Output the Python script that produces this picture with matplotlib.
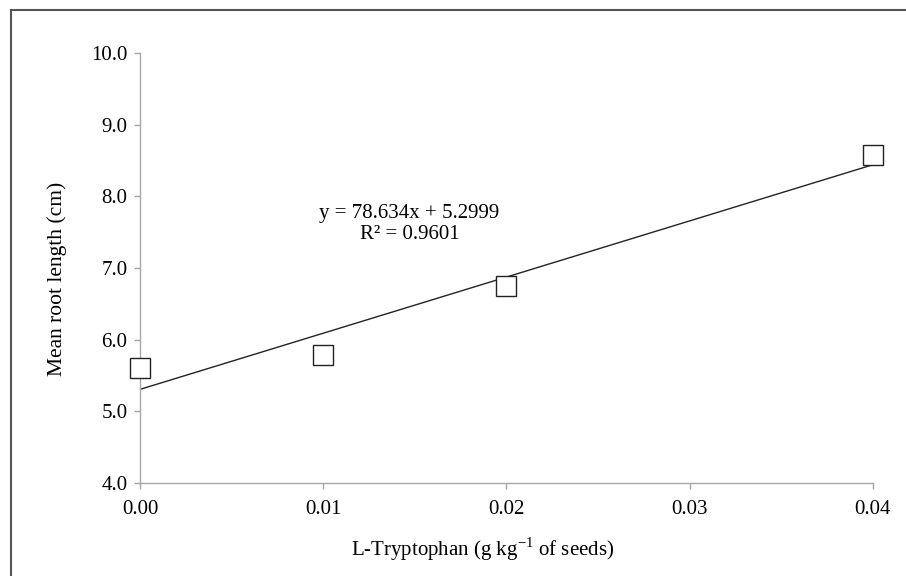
import numpy as np
import matplotlib.pyplot as plt
from matplotlib.patches import Rectangle

# Dados
triptofano = [0.00, 0.01, 0.02, 0.04]
comprimento = [5.60, 5.78, 6.75, 8.58]
x_ticks = [0.00, 0.01, 0.02, 0.03, 0.04]
y_ticks = [4.0, 5.0, 6.0, 7.0, 8.0, 9.0, 10.0]

plt.rcParams['font.family'] = ['Liberation Serif', 'DejaVu Serif']
plt.rcParams['mathtext.fontset'] = 'custom'
plt.rcParams['mathtext.rm'] = 'Liberation Serif'

fig = plt.figure(figsize=(9.06, 5.76), dpi=100)
ax = fig.add_axes([0.1545, 0.1615, 0.809, 0.7465])

# moldura externa
fig.patches.append(Rectangle((0.0125, -0.05), 1.2, 1.05 - 10 / 576, transform=fig.transFigure,
                             fill=False, edgecolor='#555555', linewidth=1.5))

# linha de tendência (regressão linear)
coef = np.polyfit(triptofano, comprimento, 1)
xs = np.array([min(triptofano), max(triptofano)])
ax.plot(xs, np.polyval(coef, xs), color='#222222', linewidth=1.0, zorder=2)

ax.plot(triptofano, comprimento, linestyle='none', marker='s', markersize=15,
        markerfacecolor='white', markeredgecolor='#222222', markeredgewidth=1.0,
        zorder=3, clip_on=False)

ax.text(0.0147, 7.76, 'y = 78.634x + 5.2999', ha='center', va='center', fontsize=15)
ax.text(0.0147, 7.47, 'R² = 0.9601', ha='center', va='center', fontsize=15)

ax.set_xlim(0, 0.04)
ax.set_ylim(4, 10)
ax.set_xticks(x_ticks)
ax.set_yticks(y_ticks)
ax.set_xticklabels([f'{v:.2f}' for v in x_ticks])
ax.set_yticklabels([f'{v:.1f}' for v in y_ticks])

for s in ['top', 'right']:
    ax.spines[s].set_visible(False)
for s in ['left', 'bottom']:
    ax.spines[s].set_color('#a6a6a6')
    ax.spines[s].set_linewidth(1.0)
ax.tick_params(colors='#a6a6a6', labelcolor='black', labelsize=15, length=4, width=1.0)
ax.tick_params(axis='y', pad=5)
ax.tick_params(axis='x', pad=8)

ax.set_xlabel(r'L-Tryptophan (g kg$^{\mathrm{-1}}$ of seeds)', fontsize=15, labelpad=12)
ax.set_ylabel('Mean root length (cm)', fontsize=15.5, labelpad=17)
ax.xaxis.label.set_x(0.467)
ax.yaxis.label.set_y(0.475)

fig.savefig('out.png', dpi=100)
